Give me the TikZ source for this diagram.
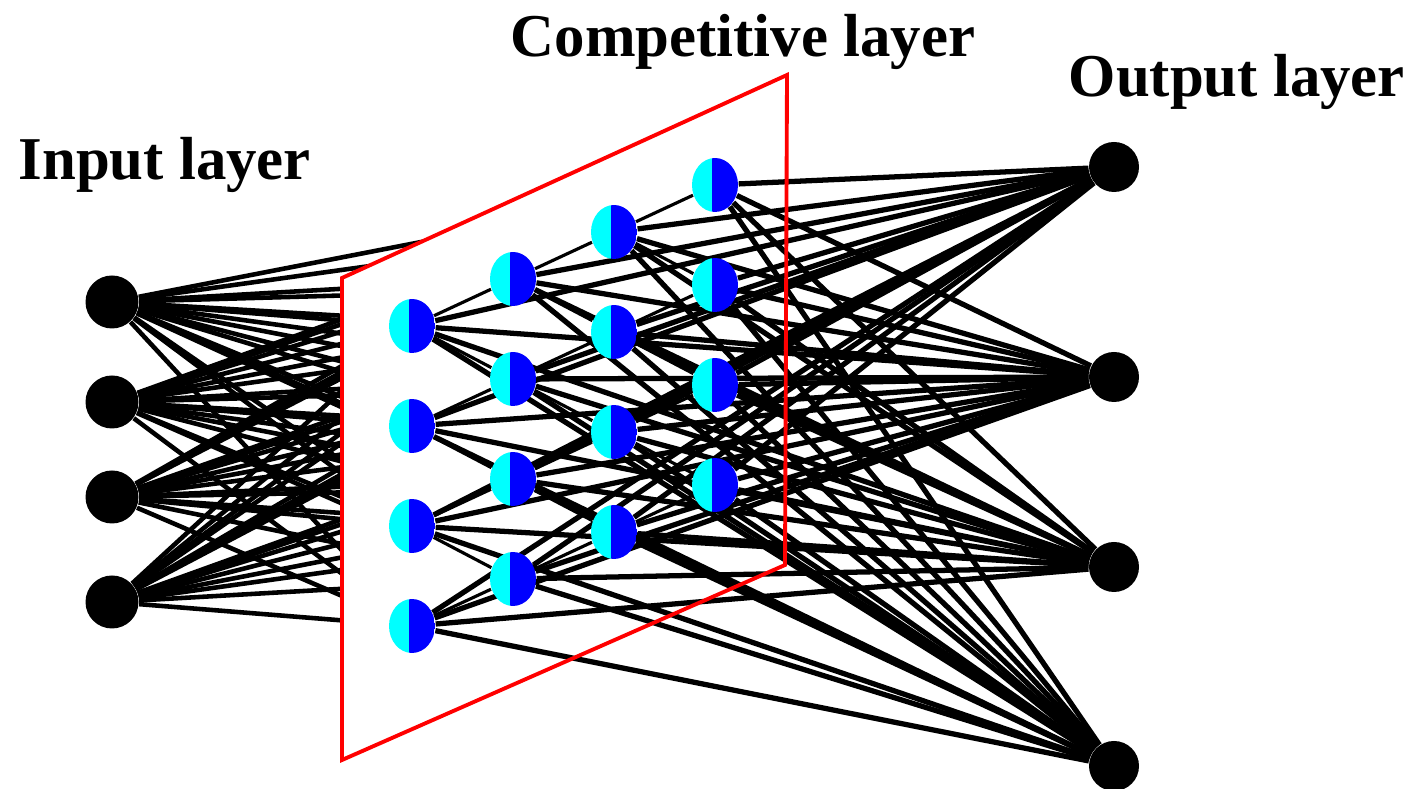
\documentclass[tikz,border=0pt]{standalone}
\usepackage{fontspec}
\setmainfont{Liberation Serif}
\definecolor{cyanvif}{RGB}{0,255,255}
\definecolor{bleuvif}{RGB}{0,0,255}
\definecolor{rougeplan}{RGB}{255,0,0}
\usetikzlibrary{positioning,backgrounds,shapes.geometric}

\begin{document}
\begin{tikzpicture}[font=\bfseries\fontsize{17.3}{20}\selectfont,
		neurone/.style={circle,fill=black,inner sep=0pt,minimum size=0.53cm},
		kohonen/.style={ellipse,inner sep=0pt,minimum width=0.46cm,minimum height=0.54cm,
			path picture={
				\fill[cyanvif] (path picture bounding box.south west) rectangle ([xshift=-0.03cm]path picture bounding box.north);
				\fill[bleuvif] ([xshift=-0.03cm]path picture bounding box.south) rectangle (path picture bounding box.north east);
			}},
		titre/.style={anchor=base west,inner sep=0pt},
		lien/.style={line width=1.3pt},
		liensortie/.style={line width=1.5pt},
		lienfin/.style={line width=0.9pt}]
	
	\useasboundingbox (0,0) rectangle (14.21,7.89);
	
	\foreach \k/\y in {0/4.87,1/3.87,2/2.92,3/1.87}
	\node[neurone] (in\k) at (1.12,\y) {};
	
	\foreach \k/\y in {0/6.22,1/4.12,2/2.22,3/0.23}
	\node[neurone,minimum size=0.5cm] (out\k) at (11.14,\y) {};
	
	\foreach \i in {0,...,3}
	\foreach \j in {0,...,3}
	\node[kohonen] (c\i\j) at ({4.12+1.01*\i},{4.63+0.47*\i-1.0*\j}) {};
	
	\coordinate (p1) at (3.42,5.11);
	\coordinate (p2) at (7.87,7.14);
	\coordinate (p3) at (7.85,2.24);
	\coordinate (p4) at (3.42,0.29);
	
	\node[titre] (entree) at (0.18,6.09) {Input layer};
	\node[titre] (compet) at (5.10,7.32) {Competitive layer};
	\node[titre] (sortie) at (10.68,6.92) {Output layer};
	
	\begin{scope}[on background layer]
		
		\foreach \k in {0,...,3}
		\foreach \i in {0,...,3}
		\foreach \j in {0,...,3}
		\draw[lien] (in\k) -- (c\i\j);
		
		\fill[white] (p1) -- (p2) -- (p3) -- (p4) -- cycle;
		
		\foreach \i/\n in {0/1,1/2,2/3}{
			\foreach \j in {0,...,3}
			\draw[lienfin] (c\i\j) -- (c\n\j);
			\foreach \j/\m in {0/1,1/2,2/3}
			\draw[lienfin] (c\i\j) -- (c\n\m);
		}
		
		\foreach \i in {0,...,3}
		\foreach \j in {0,...,3}
		\foreach \k in {0,...,3}
		\draw[liensortie] (c\i\j) -- (out\k);
		
		\draw[rougeplan,line width=1.1pt] (p1) -- (p2) -- (p3) -- (p4) -- cycle;
		
	\end{scope}
	
\end{tikzpicture}
\end{document}
